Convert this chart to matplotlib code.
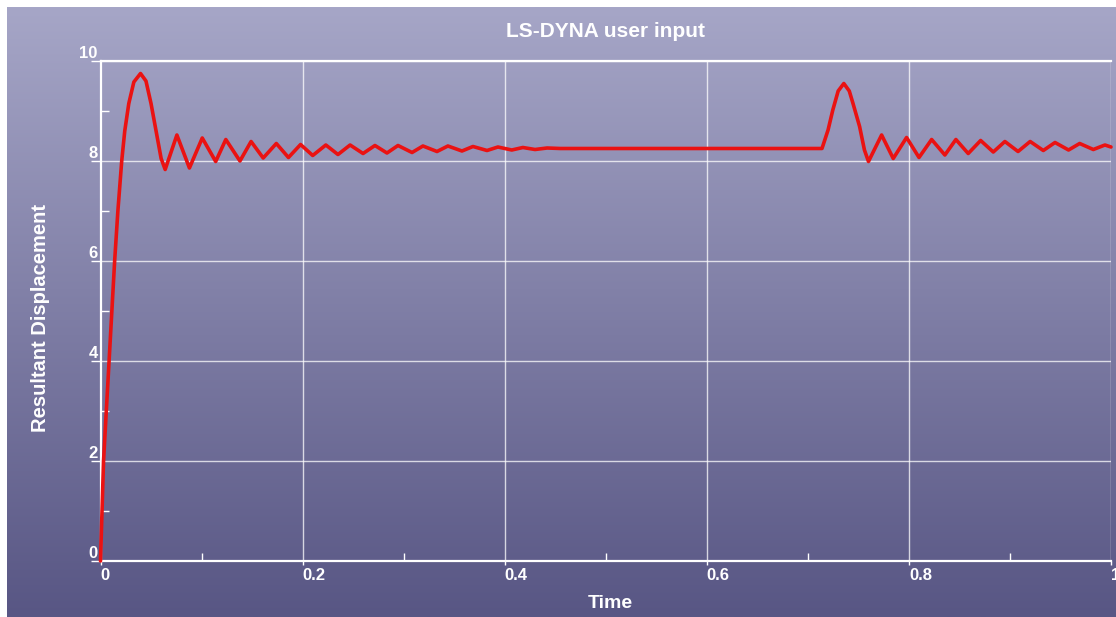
import numpy as np
import matplotlib
matplotlib.use("Agg")
import matplotlib.pyplot as plt
from matplotlib.ticker import MultipleLocator

# Resultant displacement history (time, displacement) at peaks / troughs
time = [0.000, 0.003, 0.0085, 0.014, 0.0172, 0.021, 0.024, 0.028, 0.033,
        0.0396, 0.045, 0.050, 0.055, 0.060, 0.064, 0.0756, 0.088, 0.1007,
        0.114, 0.124, 0.138, 0.149, 0.161, 0.174, 0.186, 0.198, 0.210,
        0.223, 0.235, 0.247, 0.2598, 0.2716, 0.2835, 0.2944, 0.3083,
        0.3191, 0.333, 0.3438, 0.3577, 0.3686, 0.3825, 0.3933, 0.407,
        0.418, 0.430, 0.442, 0.455, 0.714, 0.720, 0.7247, 0.7300, 0.7356,
        0.7410, 0.7447, 0.7512, 0.756, 0.760, 0.773, 0.7845, 0.7977,
        0.810, 0.8225, 0.8356, 0.8465, 0.8587, 0.871, 0.8835, 0.895,
        0.908, 0.920, 0.933, 0.9446, 0.958, 0.969, 0.9825, 0.994, 1.000]
displacement = [0.00, 2.00, 4.00, 6.00, 7.00, 8.00, 8.60, 9.15, 9.58,
                9.75, 9.60, 9.15, 8.60, 8.05, 7.83, 8.52, 7.86, 8.46,
                7.99, 8.43, 8.00, 8.39, 8.06, 8.35, 8.07, 8.33, 8.11,
                8.32, 8.13, 8.32, 8.15, 8.31, 8.16, 8.31, 8.17,
                8.30, 8.19, 8.30, 8.20, 8.29, 8.21, 8.28, 8.22,
                8.27, 8.23, 8.26, 8.25, 8.25, 8.62, 9.02, 9.40, 9.55,
                9.40, 9.15, 8.69, 8.22, 7.99, 8.52, 8.05, 8.47,
                8.07, 8.43, 8.12, 8.43, 8.15, 8.41, 8.18, 8.39,
                8.19, 8.39, 8.21, 8.37, 8.22, 8.35, 8.23, 8.32, 8.28]

x_major = [0, 0.2, 0.4, 0.6, 0.8, 1.0]
x_labels = ["0", "0.2", "0.4", "0.6", "0.8", "1"]
y_major = [0, 2, 4, 6, 8, 10]
y_labels = ["0", "2", "4", "6", "8", "10"]

FONT = ["Liberation Sans", "DejaVu Sans"]
plt.rcParams["font.family"] = FONT

W, H = 1116, 617
fig = plt.figure(figsize=(W / 100, H / 100), dpi=100, facecolor="white")

# vertical lavender gradient backdrop
bg = fig.add_axes([0, 0, 1, 1], zorder=-10)
bg.set_xlim(0, W)
bg.set_ylim(H, 0)
bg.axis("off")
top = np.array([166, 166, 199]) / 255.0
bot = np.array([88, 86, 132]) / 255.0
t = np.linspace(0, 1, 256)[:, None]
grad = (top[None, :] * (1 - t) + bot[None, :] * t)[:, None, :]
bg.imshow(grad, extent=(7, W, H, 7), aspect="auto", interpolation="bilinear")

x0, x1, y_top, y_bot = 100.5, 1111, 61, 561
ax = fig.add_axes([x0 / W, 1 - y_bot / H, (x1 - x0) / W, (y_bot - y_top) / H])
ax.set_facecolor("none")
ax.set_xlim(0, 1.0)
ax.set_ylim(0, 10)

grid_kw = dict(color="white", linewidth=1.0, alpha=0.75)
for xv in x_major[1:]:
    ax.axvline(xv, zorder=1, **grid_kw)
for yv in y_major[1:]:
    ax.axhline(yv, zorder=1, **grid_kw)
ax.axhline(10, color="white", linewidth=1.6, zorder=1, clip_on=False)

for side in ("top", "right"):
    ax.spines[side].set_visible(False)
for side in ("left", "bottom"):
    ax.spines[side].set_color("white")
    ax.spines[side].set_linewidth(1.6)

ax.plot(time, displacement, color="#ea1212", linewidth=2.6, zorder=3,
        solid_joinstyle="round", solid_capstyle="round", clip_on=False)

ax.set_xticks(x_major)
ax.set_xticklabels(x_labels)
ax.set_yticks(y_major)
ax.set_yticklabels(y_labels)
ax.xaxis.set_minor_locator(MultipleLocator(0.1))
ax.yaxis.set_minor_locator(MultipleLocator(1))

ax.tick_params(axis="y", which="major", direction="out", length=7.5,
               width=1.0, color="white", pad=-5.6, labelsize=12,
               labelcolor="white")
ax.tick_params(axis="y", which="minor", direction="in", length=6,
               width=1.0, color="white")
ax.tick_params(axis="x", which="major", direction="out", length=3,
               width=1.0, color="white", pad=2, labelsize=12,
               labelcolor="white")
ax.tick_params(axis="x", which="minor", direction="in", length=6,
               width=1.0, color="white")
for lab in ax.get_yticklabels():
    lab.set_verticalalignment("bottom")
    lab.set_fontweight("bold")
for lab in ax.get_xticklabels():
    lab.set_horizontalalignment("left")
    lab.set_fontweight("bold")

fig.text(605 / W, 1 - 31.5 / H, "LS-DYNA user input", ha="center",
         va="center", fontsize=15, fontweight="bold", color="white")
fig.text(610 / W, 1 - 604 / H, "Time", ha="center", va="center",
         fontsize=14, fontweight="bold", color="white")
fig.text(41 / W, 1 - 318 / H, "Resultant Displacement", ha="center",
         va="center", rotation=90, fontsize=14.5, fontweight="bold",
         color="white")

fig.savefig("out.png", dpi=100, facecolor=fig.get_facecolor())
